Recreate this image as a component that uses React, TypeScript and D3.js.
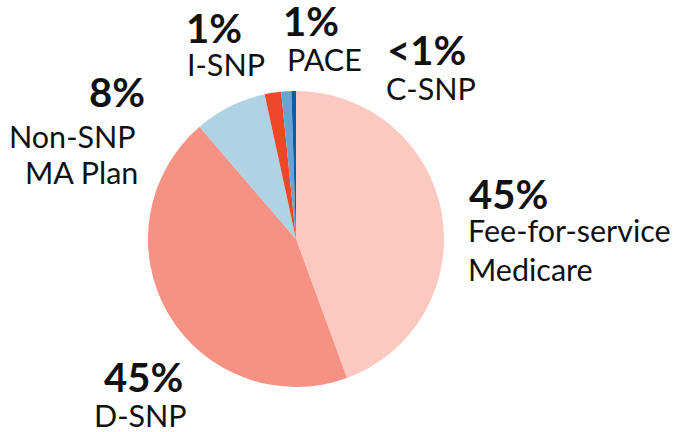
import React, { useRef, useEffect } from 'react'
import * as d3 from 'd3'

// slices clockwise from 12 o'clock
const categories = ['Fee-for-service Medicare', 'D-SNP', 'Non-SNP MA Plan', 'I-SNP', 'PACE', 'C-SNP']
const shares = [44.4, 44.3, 7.9, 1.8, 1.1, 0.5]
const colors = ['#fcc9c0', '#f69284', '#afd3e4', '#ee4628', '#6aa3d3', '#0a5ea8']
const pctLabels = ['45%', '45%', '8%', '1%', '1%', '<1%']
const nameLines = [['Fee-for-service', 'Medicare'], ['D-SNP'], ['Non-SNP', 'MA Plan'], ['I-SNP'], ['PACE'], ['C-SNP']]

const W = 678
const H = 432

// label anchors: pct x / baseline, x of each name line, first name baseline, line gap
const labelPos = [
  { px: 469, py: 209, nx: [468, 468], ny: 242, gap: 39 },
  { px: 104, py: 392, nx: [94], ny: 427, gap: 0 },
  { px: 89, py: 107, nx: [9, 25], ny: 148, gap: 36 },
  { px: 186, py: 43, nx: [187], ny: 76, gap: 0 },
  { px: 283, py: 36, nx: [287], ny: 71, gap: 0 },
  { px: 387, py: 65, nx: [386], ny: 100, gap: 0 }
]

const App = () => {
  const node = useRef<SVGSVGElement | null>(null)

  useEffect(() => {
    const svg = d3.select(node.current)
    svg.selectAll('*').remove()

    const cx = 296
    const cy = 239
    const r = 148

    const pie = d3
      .pie<number>()
      .sort(null)
      .value((d) => d)
    const arc = d3.arc().innerRadius(0).outerRadius(r)

    const g = svg.append('g').attr('transform', `translate(${cx},${cy})`)
    g.selectAll('path')
      .data(pie(shares))
      .join('path')
      .attr('d', arc as any)
      .attr('fill', (d, i) => colors[i])

    const labels = svg
      .append('g')
      .attr('font-family', 'Lato, "Open Sans", sans-serif')
      .attr('fill', '#111')

    categories.forEach((c, i) => {
      const p = labelPos[i]
      labels
        .append('text')
        .attr('x', p.px)
        .attr('y', p.py)
        .attr('font-size', 40)
        .attr('font-weight', 700)
        .text(pctLabels[i])
      nameLines[i].forEach((line, j) => {
        labels
          .append('text')
          .attr('x', p.nx[j])
          .attr('y', p.ny + j * p.gap)
          .attr('font-size', 30.5)
          .text(line)
      })
    })
  }, [])

  return (
    <div style={{ position: 'fixed', left: 0, top: 0, width: W, height: H, background: '#fff' }}>
      <svg ref={node} width={W} height={H}></svg>
    </div>
  )
}

export default App
